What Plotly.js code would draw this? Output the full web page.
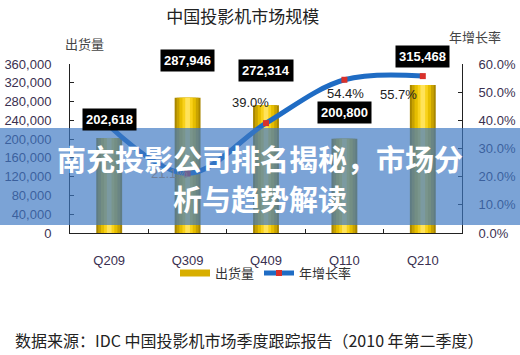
<!DOCTYPE html>
<html>
<head>
<meta charset="utf-8">
<script src="https://cdn.plot.ly/plotly-3.0.1.min.js"></script>
<style>
  html, body { margin: 0; padding: 0; background: #fff; }
  #chart { width: 520px; height: 355px; }
</style>
</head>
<body>
<div id="chart"></div>
<script>
// ---- data ----
const quarters = ["Q209", "Q309", "Q409", "Q110", "Q210"];
const shipments = [202618, 287946, 272314, 200800, 315468];
const growthPct = [38.0, 21.1, 39.0, 54.4, 55.7];
const shipmentName = "出货量";
const growthName = "年增长率";
const chartTitle = "中国投影机市场规模";
const bannerLine1 = "南充投影公司排名揭秘，市场分";
const bannerLine2 = "析与趋势解读";
const sourceText = "数据来源：IDC 中国投影机市场季度跟踪报告（2010 年第二季度）";

// ---- styling ----
const SANS = "Liberation Sans, Arial, sans-serif";
const CJK = "Noto Sans CJK SC, Noto Sans, sans-serif";
const barLabelShift = [7, 26, 23, 15, 17];
const pctLabelShift = [[0, 0], [-18, 0], [-16, 21], [1, -14], [-24, -18]];
const pctLabelColor = ["rgba(0,0,0,0)", "#6f7f9a", "#222", "#222", "#222"];

// cylinder-like shading via overlaid bars
const shades = [
  {w: 0.33, c: "#A98700"},
  {w: 0.28, c: "#C9A300"},
  {w: 0.21, c: "#E6BE00"},
  {w: 0.13, c: "#F9D21A"},
  {w: 0.06, c: "#FFE35A"}
];

const traces = shades.map(s => ({
  type: "bar",
  x: quarters,
  y: shipments,
  width: quarters.map(() => s.w),
  marker: {color: s.c, line: {width: 0}},
  showlegend: false,
  hoverinfo: "skip",
  yaxis: "y"
}));

// legend entry for the bars (no drawn points)
traces.push({
  type: "scatter",
  mode: "lines",
  x: [quarters[0]], y: [null],
  name: shipmentName,
  line: {color: "#D8AE00", width: 7},
  showlegend: true,
  hoverinfo: "skip"
});

traces.push({
  type: "scatter",
  mode: "lines+markers",
  x: quarters,
  y: growthPct,
  name: growthName,
  yaxis: "y2",
  line: {color: "#1F6CC4", width: 5, shape: "spline"},
  marker: {color: "#D9312B", size: 6, symbol: "square"}
});

const annotations = [];
shipments.forEach((v, i) => {
  annotations.push({
    x: quarters[i], y: v, xref: "x", yref: "y",
    xanchor: "center", yanchor: "bottom", yshift: barLabelShift[i],
    text: v.toLocaleString("en-US"),
    showarrow: false,
    bgcolor: "#000",
    borderpad: 3,
    font: {family: SANS, size: 13, color: "#fff", weight: "bold"}
  });
});
growthPct.forEach((v, i) => {
  annotations.push({
    x: quarters[i], y: v, xref: "x", yref: "y2",
    xanchor: "center", yanchor: "middle",
    xshift: pctLabelShift[i][0], yshift: pctLabelShift[i][1],
    text: v.toFixed(1) + "%",
    showarrow: false,
    font: {family: SANS, size: 13, color: pctLabelColor[i]}
  });
});
function paperNote(x, y, text, font) {
  annotations.push({
    xref: "paper", yref: "paper", x: x, y: y,
    xanchor: "center", yanchor: "middle",
    text: text, showarrow: false, font: font
  });
}
// axis captions
paperNote(0.036, 1.124, shipmentName, {family: CJK, size: 13, color: "#444"});
paperNote(1.033, 1.16, growthName, {family: CJK, size: 13, color: "#444"});
// banner text
paperNote(0.4847, 0.4438, bannerLine1, {family: CJK, size: 29, color: "#fff", weight: "bold"});
paperNote(0.4847, 0.207, bannerLine2, {family: CJK, size: 29, color: "#fff", weight: "bold"});
// source
paperNote(0.459, -0.633, sourceText, {family: CJK, size: 16, color: "#222"});

const plotW = 392, plotH = 169;
const tickFont = {family: SANS, size: 13, color: "#3a3050"};
const layout = {
  width: 520, height: 355,
  margin: {l: 70, r: 58, t: 64, b: 122},
  paper_bgcolor: "#fff",
  plot_bgcolor: "#fff",
  barmode: "overlay",
  title: {
    text: chartTitle,
    xref: "paper", x: 0.441, xanchor: "center",
    yref: "container", y: 0.952, yanchor: "middle",
    font: {family: CJK, size: 17, color: "#222"}
  },
  xaxis: {
    type: "category",
    showline: true, linecolor: "#222", linewidth: 1,
    ticks: "inside", ticklen: 4, tickcolor: "#222",
    tickson: "boundaries",
    ticklabelstandoff: 15,
    showgrid: false, zeroline: false,
    tickfont: tickFont
  },
  yaxis: {
    range: [0, 360000], dtick: 40000, tick0: 0,
    tickformat: ",d",
    showline: true, linecolor: "#222", linewidth: 1,
    ticks: "inside", ticklen: 4, tickcolor: "#222",
    ticklabelstandoff: 15,
    showgrid: false, zeroline: false,
    tickfont: tickFont
  },
  yaxis2: {
    overlaying: "y", side: "right",
    range: [0, 60], dtick: 10, tick0: 0,
    tickformat: ".1f", ticksuffix: "%",
    showline: true, linecolor: "#222", linewidth: 1,
    ticks: "inside", ticklen: 4, tickcolor: "#222",
    ticklabelstandoff: 13,
    showgrid: false, zeroline: false,
    tickfont: tickFont
  },
  legend: {
    orientation: "h",
    x: 0.5, xanchor: "center",
    y: -0.237, yanchor: "middle",
    itemwidth: 30,
    font: {family: CJK, size: 13, color: "#333"},
    bgcolor: "rgba(0,0,0,0)"
  },
  shapes: [{
    type: "rect", layer: "above",
    xref: "paper", yref: "paper",
    x0: -70 / plotW, x1: 1 + 58 / plotW,
    y0: (233 - 225) / plotH, y1: (233 - 128) / plotH,
    fillcolor: "rgba(60,120,195,0.68)",
    line: {width: 0}
  }],
  annotations: annotations,
  showlegend: true
};

Plotly.newPlot("chart", traces, layout, {displayModeBar: false, staticPlot: true});
</script>
</body>
</html>
